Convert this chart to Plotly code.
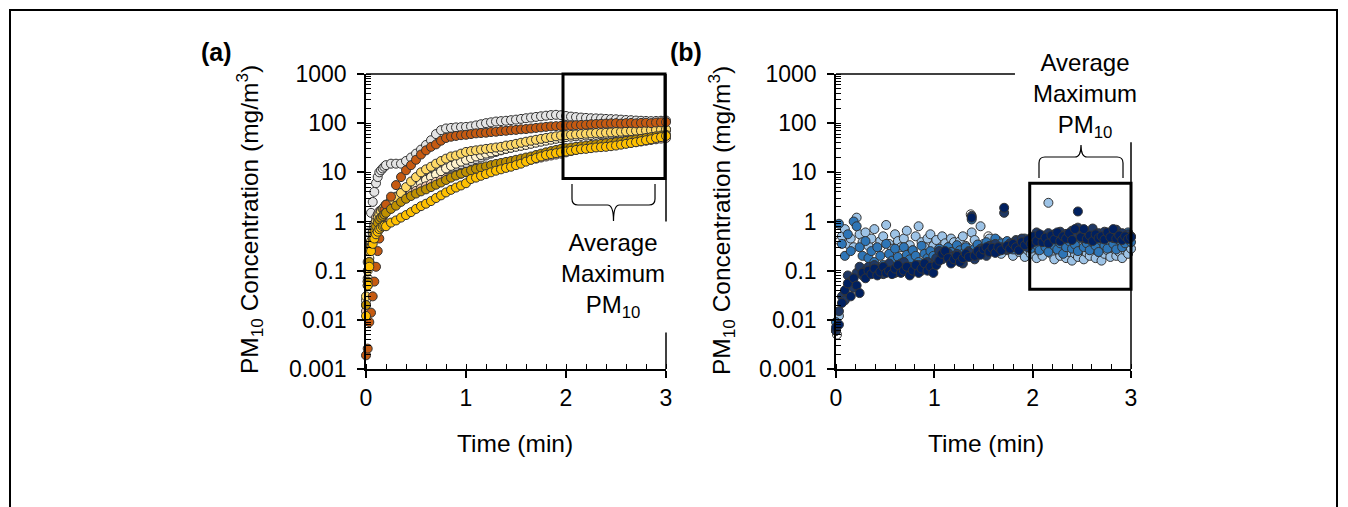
import math
import plotly.graph_objects as go

W, H = 1348, 507
FONT = "Liberation Sans, Arial, sans-serif"

# ---------------- data : panel (a) ----------------
TIME_A = [0.0, 0.017, 0.033, 0.05, 0.067, 0.083, 0.1, 0.117, 0.133, 0.15, 0.167, 0.183,
          0.2, 0.25, 0.3, 0.35, 0.4, 0.45, 0.5, 0.55, 0.6, 0.65, 0.7, 0.75, 0.8, 0.85, 0.9, 0.95, 1.0,
          1.05, 1.1, 1.15, 1.2, 1.25, 1.3, 1.35, 1.4, 1.45, 1.5, 1.55, 1.6, 1.65, 1.7, 1.75, 1.8, 1.85, 1.9, 1.95, 2.0,
          2.05, 2.1, 2.15, 2.2, 2.25, 2.3, 2.35, 2.4, 2.45, 2.5, 2.55, 2.6, 2.65, 2.7, 2.75, 2.8, 2.85, 2.9, 2.95, 3.0]

A_WHITE = [0.02, 0.15, 0.6, 1.5, 2.5, 4, 6, 8, 10, 11, 12, 13,
           14, 15, 15, 15, 17, 20, 24, 29, 36, 45, 60, 72, 78, 80, 82, 83, 84,
           86, 90, 95, 100, 104, 108, 110, 112, 115, 118, 122, 126, 130, 134, 138, 142, 146, 148, 145, 140,
           136, 133, 130, 128, 126, 125, 124, 122, 121, 120, 118, 116, 115, 113, 112, 111, 110, 111, 112, 113]
A_GREY = [0.02, 0.06, 0.15, 0.3, 0.5, 0.7, 0.9, 1.1, 1.3, 1.5, 1.7, 1.9,
          2.1, 2.6, 3.2, 3.8, 4.4, 5, 5.8, 6.6, 7.5, 8.5, 9.5, 10.5, 11.5, 12.5, 13.5, 14.5, 15.5,
          17, 18.5, 20, 22, 24, 26, 28, 30, 32, 34, 36, 38, 40, 42, 44, 46, 48, 50, 52, 54,
          55, 56, 57, 58, 59, 60, 61, 62, 63, 64, 65, 66, 67, 68, 69, 70, 71, 72, 73, 74]
A_CREAM = [0.025, 0.07, 0.18, 0.35, 0.5, 0.65, 0.8, 0.95, 1.1, 1.25, 1.4, 1.6,
           1.8, 2.2, 2.6, 3.1, 3.7, 4.4, 5.2, 6, 7, 8, 9, 10.5, 12, 13.5, 15, 16.5, 18,
           19.5, 21, 22.5, 24, 25.5, 27, 28.5, 30, 31.5, 33, 34.5, 36, 38, 40, 42, 44, 46, 48, 50, 52,
           53, 54, 55, 56, 57, 58, 59, 60, 61, 62, 63, 64, 65, 66, 67, 68, 69, 70, 71, 72]
A_PEACH = [0.015, 0.05, 0.15, 0.35, 0.6, 0.9, 1.2, 1.4, 1.6, 1.7, 1.8, 1.9,
           2.0, 2.3, 2.6, 3.0, 3.4, 3.8, 4.2, 4.7, 5.2, 5.8, 6.4, 7, 7.6, 8.2, 8.8, 9.4, 10,
           10.6, 11.2, 11.8, 12.4, 13, 13.5, 14, 14.5, 15, 15.5, 16, 17, 18, 19, 20, 21, 22, 23, 24, 25.5,
           27, 28.5, 30, 31, 32, 33, 34, 35, 36, 37, 38, 39, 40, 41, 42.5, 44, 45.5, 47, 48.5, 50]
A_LIGHTYELLOW = [0.03, 0.1, 0.25, 0.4, 0.6, 0.8, 1.0, 1.2, 1.4, 1.6, 1.8, 2.0,
                 2.2, 2.7, 3.1, 3.8, 5, 6.5, 8, 10, 11.5, 13, 15, 17, 19, 21, 22, 24, 26,
                 27, 28, 29, 30, 31, 32, 33, 35, 36, 38, 40, 42, 44, 46, 48, 50, 52, 54, 56, 57,
                 58, 59, 60, 61, 62, 63, 63, 64, 65, 66, 67, 68, 69, 70, 70, 71, 72, 73, 74, 75]
A_DARKORANGE = [0.0019, 0.0026, 0.009, 0.014, 0.03, 0.06, 0.12, 0.25, 0.45, 0.8, 1.2, 1.7,
                2.2, 3.2, 5.5, 8, 11, 14, 18, 23, 28, 33, 37, 44, 50, 53, 55, 57, 58,
                60, 62, 63, 64, 66, 67, 69, 70, 72, 73, 75, 76, 78, 80, 82, 84, 86, 87, 88, 89,
                90, 91, 92, 93, 95, 96, 97, 98, 99, 100, 98, 100, 101, 99, 101, 102, 100, 103, 104, 105]
A_GOLD = [0.02, 0.06, 0.15, 0.3, 0.45, 0.6, 0.8, 0.95, 1.1, 1.2, 1.3, 1.4,
          1.5, 1.8, 2.1, 2.5, 2.9, 3.3, 3.7, 4.1, 4.5, 5, 5.6, 6.2, 7, 7.8, 8.6, 9.4, 10.2,
          11, 11.8, 12.5, 13.2, 14, 14.8, 15.5, 16.3, 17, 18, 19, 20, 21, 22.5, 24, 25.5, 27, 28.5, 30, 31,
          32, 33, 34, 35, 36, 37, 38, 39, 40, 41, 42, 43.5, 45, 46.5, 48, 50, 52, 54, 56, 58]
A_YELLOW = [0.012, 0.05, 0.12, 0.25, 0.35, 0.45, 0.55, 0.62, 0.7, 0.75, 0.8, 0.82,
            0.8, 0.95, 1.05, 1.2, 1.35, 1.55, 1.8, 2.05, 2.3, 2.6, 3.0, 3.4, 3.9, 4.4, 4.9, 5.4, 6.0,
            7.3, 7.8, 8.5, 9.2, 10, 10.8, 11.5, 12.3, 13, 14, 15, 16.5, 18, 19.5, 21, 22.5, 23.5, 24.5, 25.5, 26.5,
            27.5, 28.5, 29.5, 30, 31, 32, 32.5, 33, 34, 35, 36.5, 38, 39.5, 41, 43, 45, 47, 50, 52, 55]

SERIES_A = [
    ("#E4E4E4", A_WHITE), ("#D0CECE", A_GREY), ("#FFF2CC", A_CREAM), ("#F8CBAD", A_PEACH),
    ("#FFD966", A_LIGHTYELLOW), ("#C55A11", A_DARKORANGE), ("#BF9000", A_GOLD), ("#FFC000", A_YELLOW),
]

# ---------------- data : panel (b) ----------------
TIME_B = [round(0.03 * i, 2) for i in range(101)]

B_LIGHT = [0.006, 0.012, 0.5, 0.7, 0.35, 0.45, 0.3, 1.2, 0.55, 0.38, 0.6, 0.32, 0.45, 0.7, 0.3, 0.4, 0.5, 0.85, 0.35, 0.28,
           0.55, 0.4, 0.3, 0.45, 0.65, 0.33, 0.26, 0.5, 0.8, 0.38, 0.3, 0.45, 0.55, 0.32, 0.42, 0.28, 0.5, 0.36, 0.3, 0.45,
           0.38, 0.26, 0.4, 0.5, 0.32, 0.28, 0.6, 0.42, 0.3, 0.8, 0.35, 0.25, 0.45, 0.32, 0.28, 0.4, 0.22, 0.3, 0.26, 0.35,
           0.2, 0.28, 0.24, 0.32, 0.19, 0.26, 0.22, 0.3, 0.18, 0.25, 0.2, 0.28, 2.4, 0.22, 0.17, 0.26, 0.2, 0.3, 0.18, 0.24,
           0.16, 0.22, 0.19, 0.27, 0.17, 0.23, 0.2, 0.28, 0.18, 0.24, 0.16, 0.22, 0.26, 0.19, 0.3, 0.2, 0.24, 0.18, 0.26, 0.22,
           0.28]
B_MEDIUM = [0.009, 0.9, 0.35, 0.2, 0.55, 0.25, 1.0, 0.8, 0.3, 0.2, 0.4, 0.18, 0.25, 0.15, 0.3, 0.2, 0.13, 0.35, 0.22, 0.16,
            0.28, 0.19, 0.14, 0.3, 0.21, 0.17, 0.26, 0.2, 0.15, 0.32, 0.22, 0.18, 0.25, 0.2, 0.17, 0.28, 0.22, 0.19, 0.3, 0.24,
            0.2, 0.33, 0.26, 0.22, 0.3, 0.25, 1.1, 0.28, 0.34, 0.24, 0.3, 0.38, 0.27, 0.33, 0.45, 0.3, 0.36, 0.28, 0.4, 0.32,
            0.27, 0.42, 0.34, 0.3, 0.45, 0.36, 0.28, 0.4, 0.33, 0.26, 0.38, 0.3, 0.24, 0.42, 0.32, 0.27, 0.36, 0.22, 0.3, 0.4,
            0.28, 0.34, 0.25, 0.45, 0.3, 0.36, 0.26, 0.38, 0.32, 0.24, 0.4, 0.33, 0.28, 0.5, 0.35, 0.27, 0.42, 0.3, 0.36, 0.6,
            0.38]
B_NAVY2 = [0.006, 0.015, 0.03, 0.025, 0.08, 0.06, 0.045, 0.09, 0.12, 0.08, 0.1, 0.12, 0.09, 0.13, 0.1, 0.11, 0.085, 0.12, 0.14, 0.1,
           0.09, 0.11, 0.12, 0.15, 0.1, 0.12, 0.095, 0.11, 0.13, 0.1, 0.12, 0.15, 0.11, 0.13, 0.18, 0.25, 0.17, 0.2, 0.23, 0.19,
           0.16, 0.22, 0.18, 0.14, 0.2, 0.24, 1.3, 0.17, 0.22, 0.28, 0.24, 0.2, 0.32, 0.27, 0.35, 0.25, 0.3, 1.5, 0.27, 0.36,
           0.3, 0.4, 0.33, 0.45, 0.38, 0.3, 0.46, 0.38, 0.6, 0.45, 0.52, 0.4, 0.58, 0.46, 0.55, 0.44, 0.62, 0.48, 0.56, 0.46,
           0.65, 0.5, 0.75, 0.55, 0.46, 0.6, 0.5, 0.72, 0.48, 0.58, 0.45, 0.62, 0.5, 0.56, 0.46, 0.68, 0.5, 0.58, 0.47, 0.55,
           0.5]
B_NAVY = [0.007, 0.008, 0.022, 0.04, 0.055, 0.03, 0.07, 0.05, 0.035, 0.09, 0.07, 0.1, 0.085, 0.11, 0.08, 0.095, 0.12, 0.09, 0.1, 0.085,
          0.11, 0.13, 0.09, 0.1, 0.12, 0.08, 0.1, 0.13, 0.09, 0.11, 0.14, 0.1, 0.12, 0.09, 0.13, 0.16, 0.22, 0.25, 0.18, 0.14,
          0.17, 0.2, 0.15, 0.18, 0.22, 0.19, 1.2, 0.2, 0.25, 0.21, 0.27, 0.3, 0.24, 0.29, 0.23, 0.3, 0.26, 1.9, 0.32, 0.28,
          0.35, 0.3, 0.26, 0.38, 0.33, 0.42, 0.35, 0.5, 0.4, 0.55, 0.38, 0.47, 0.36, 0.52, 0.43, 0.6, 0.4, 0.5, 0.45, 0.58,
          0.42, 0.7, 1.6, 0.48, 0.7, 0.44, 0.52, 0.4, 0.55, 0.46, 0.5, 0.43, 0.6, 0.48, 0.7, 0.45, 0.52, 0.42, 0.5, 0.44,
          0.48]
B_WHITE_T = [0.0, 0.01, 0.04, 0.45, 0.95, 1.37, 1.55, 2.3]
B_WHITE = [0.006, 0.005, 0.4, 0.3, 0.35, 1.4, 0.5, 0.3]

SERIES_B = [
    ("#FFFFFF", B_WHITE_T, B_WHITE), ("#9DC3E6", TIME_B, B_LIGHT), ("#2E75B6", TIME_B, B_MEDIUM),
    ("#1F3864", TIME_B, B_NAVY2), ("#002060", TIME_B, B_NAVY),
]

# ---------------- geometry ----------------
XA_PX = (366, 666)
XB_PX = (836, 1131)
Y_PX = (74, 369)  # top (1000) / bottom (0.001)
dom_xa = [XA_PX[0] / W, XA_PX[1] / W]
dom_xb = [XB_PX[0] / W, XB_PX[1] / W]
dom_y = [1 - Y_PX[1] / H, 1 - Y_PX[0] / H]


def px_x(t, panel):
    a, b = (XA_PX if panel == "a" else XB_PX)
    return a + t / 3.0 * (b - a)


def px_y(v):
    return Y_PX[1] - (math.log10(v) + 3) / 6.0 * (Y_PX[1] - Y_PX[0])


def pp(xp, yp):
    return xp / W, 1 - yp / H


fig = go.Figure()
MK = dict(size=9, line=dict(color="#333333", width=1))
for col, ys in SERIES_A:
    fig.add_trace(go.Scatter(x=TIME_A[:len(ys)], y=ys, mode="markers", xaxis="x", yaxis="y",
                             marker=dict(color=col, **MK), cliponaxis=False, hoverinfo="skip"))
for col, xs, ys in SERIES_B:
    fig.add_trace(go.Scatter(x=xs[:len(ys)], y=ys, mode="markers", xaxis="x2", yaxis="y2",
                             marker=dict(color=col, **MK), cliponaxis=False, hoverinfo="skip"))

tickfont = dict(family=FONT, size=23, color="black")
xcommon = dict(range=[0, 3], tick0=0, dtick=1, showline=True, linecolor="black", linewidth=1.5,
               ticks="outside", ticklen=7, tickwidth=1.5, tickcolor="black", showgrid=False, zeroline=False,
               tickfont=tickfont, ticklabelstandoff=1, automargin=False,
               minor=dict(dtick=0.2, ticks="inside", ticklen=5, tickwidth=1, tickcolor="black", showgrid=False))
ycommon = dict(type="log", range=[-3, 3], dtick=1, exponentformat="none", showline=True, linecolor="black",
               linewidth=1.5, ticks="outside", ticklen=7, tickwidth=1.5, tickcolor="black", showgrid=False,
               zeroline=False, tickfont=tickfont, ticklabelstandoff=6, automargin=False,
               minor=dict(dtick="D1", ticks="inside", ticklen=5, tickwidth=1, tickcolor="black", showgrid=False))

fig.update_layout(
    template="none",
    width=W, height=H, autosize=False, margin=dict(l=0, r=0, t=0, b=0, pad=0, autoexpand=False),
    paper_bgcolor="white", plot_bgcolor="rgba(0,0,0,0)", showlegend=False,
    xaxis=dict(domain=dom_xa, anchor="y", **xcommon),
    yaxis=dict(domain=dom_y, anchor="x", **ycommon),
    xaxis2=dict(domain=dom_xb, anchor="y2", **xcommon),
    yaxis2=dict(domain=dom_y, anchor="x2", **ycommon),
)

shapes = []
# outer frame
shapes.append(dict(type="rect", xref="paper", yref="paper", x0=10 / W, x1=1337 / W, y0=-0.3, y1=1 - 10 / H,
                   line=dict(color="black", width=2)))


def seg(x0, y0, x1, y1, width=1.5):
    a = pp(x0, y0)
    b = pp(x1, y1)
    shapes.append(dict(type="line", xref="paper", yref="paper", x0=a[0], y0=a[1], x1=b[0], y1=b[1],
                       line=dict(color="black", width=width), layer="above"))


def box(t0, t1, v0, v1, panel):
    a = pp(px_x(t0, panel), px_y(v1))
    b = pp(px_x(t1, panel), px_y(v0))
    shapes.append(dict(type="rect", xref="paper", yref="paper", x0=a[0], y0=b[1], x1=b[0], y1=a[1],
                       line=dict(color="black", width=3), layer="above"))


# top lines at 1000
seg(px_x(0, "a"), px_y(1000), px_x(1.97, "a"), px_y(1000))
seg(px_x(0, "b"), px_y(1000), px_x(1.82, "b"), px_y(1000))
# right-side lines
seg(px_x(3, "a"), px_y(1000), px_x(3, "a"), px_y(1.0))
seg(px_x(3, "a"), px_y(0.0055), px_x(3, "a"), px_y(0.001))
seg(px_x(3, "b"), px_y(41), px_x(3, "b"), px_y(0.001))
# boxes
box(1.97, 2.99, 7.5, 1000, "a")
box(1.97, 3.0, 0.042, 6.0, "b")


def brace(xl, xr, yend, ymid, ytip, r=6):
    xc = (xl + xr) / 2
    s = 1 if ytip > ymid else -1

    def P(x, y):
        a = pp(x, y)
        return f"{a[0]:.5f},{a[1]:.5f}"
    path = (f"M{P(xl, yend)} L{P(xl, ymid - s * r)} Q{P(xl, ymid)} {P(xl + r, ymid)} "
            f"L{P(xc - r, ymid)} Q{P(xc, ymid)} {P(xc, ytip)} Q{P(xc, ymid)} {P(xc + r, ymid)} "
            f"L{P(xr - r, ymid)} Q{P(xr, ymid)} {P(xr, ymid - s * r)} L{P(xr, yend)}")
    shapes.append(dict(type="path", xref="paper", yref="paper", path=path,
                       line=dict(color="black", width=1.2), layer="above"))


brace(572, 655, 184, 205, 221)
brace(1039, 1123, 178, 157, 145)

fig.update_layout(shapes=shapes)

ann = []


def text(x, y, s, size=22, bold=False, angle=0):
    a = pp(x, y)
    ann.append(dict(xref="paper", yref="paper", x=a[0], y=a[1], text=(f"<b>{s}</b>" if bold else s),
                    showarrow=False, xanchor="center", yanchor="middle", textangle=angle,
                    font=dict(family=FONT, size=size, color="black")))


text(216, 52, "(a)", size=25, bold=True)
text(686, 52, "(b)", size=25, bold=True)
ytitle = "PM<sub>10</sub> Concentration (mg/m<sup>3</sup>)"
text(249, 220, ytitle, size=24.5, angle=-90)
text(721, 220, ytitle, size=24.5, angle=-90)
text(515, 443, "Time (min)", size=24.5)
text(986, 443, "Time (min)", size=24.5)
text(613, 275, "Average<br>Maximum<br>PM<sub>10</sub>", size=24)
text(1085, 95, "Average<br>Maximum<br>PM<sub>10</sub>", size=24)
fig.update_layout(annotations=ann)

fig.write_html("out.html", config={"displayModeBar": False},
               post_script="document.body.style.margin='0';document.body.style.overflow='hidden';")
